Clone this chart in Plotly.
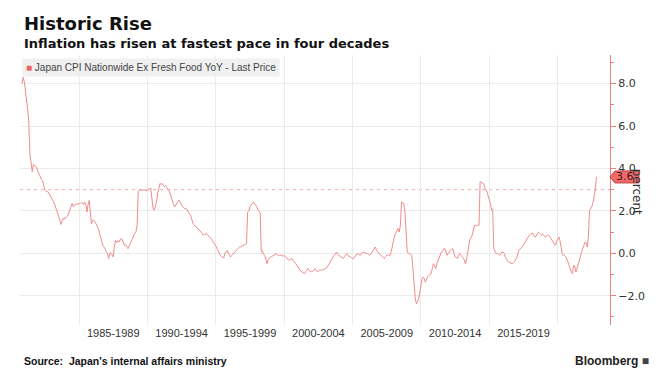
import pandas as pd
import plotly.graph_objects as go

# ---- data -------------------------------------------------------------
series_name = "Japan CPI Nationwide Ex Fresh Food YoY - Last Price"
first_month = "1980-10-01"   # monthly observations, month-end dates
cpi_yoy = [
    8.0, 8.3, 8.1,                                                        # 1980 Oct-Dec
    7.7, 7.3, 6.8, 6.2, 4.6, 4.3, 3.85, 4.2, 4.15, 4.1, 4.05, 3.85,        # 1981
    3.7, 3.6, 3.5, 3.45, 3.2, 3.0, 2.95, 2.9, 2.9, 2.75, 2.7, 2.6,         # 1982
    2.5, 2.4, 2.27, 2.1, 1.95, 1.8, 1.6, 1.36, 1.5, 1.64, 1.6, 1.7,        # 1983
    1.7, 1.75, 1.9, 2.1, 2.2, 2.35, 2.2, 2.3, 2.27, 2.35, 2.3, 2.35,       # 1984
    2.35, 2.4, 2.38, 2.3, 2.42, 2.3, 1.95, 2.3, 2.5, 1.9, 1.4, 1.55,       # 1985
    1.56, 1.5, 1.4, 1.3, 1.17, 0.95, 0.69, 0.55, 0.38, 0.3, 0.2, 0.06,     # 1986
    0.0, -0.25, 0.0, 0.03, -0.1, -0.17, 0.3, 0.61, 0.5, 0.6, 0.53, 0.6,    # 1987
    0.7, 0.65, 0.5, 0.38, 0.4, 0.3, 0.22, 0.35, 0.45, 0.53, 0.7, 0.85,     # 1988
    0.95, 1.0, 1.3, 2.9, 2.98, 2.98, 2.95, 2.98, 3.0, 2.98, 2.95, 2.98,    # 1989
    3.0, 3.05, 3.08, 2.4, 2.1, 2.03, 2.2, 2.42, 2.8, 3.1, 3.29, 3.25,      # 1990
    3.3, 3.21, 3.15, 3.2, 3.08, 3.0, 2.98, 2.8, 2.58, 2.4, 2.3, 2.19,      # 1991
    2.3, 2.35, 2.45, 2.5, 2.4, 2.25, 2.19, 2.15, 2.1, 2.11, 2.05, 1.95,    # 1992
    1.85, 1.8, 1.6, 1.4, 1.35, 1.3, 1.24, 1.2, 1.15, 1.09, 1.0, 0.95,      # 1993
    0.85, 0.9, 0.9, 0.93, 0.85, 0.8, 0.77, 0.7, 0.6, 0.53, 0.45, 0.35,     # 1994
    0.22, 0.1, 0.0, -0.09, -0.15, -0.2, -0.22, 0.0, 0.1, 0.14, 0.0, -0.1,  # 1995
    -0.17, -0.1, -0.01, 0.0, 0.1, 0.14, 0.2, 0.25, 0.3, 0.3, 0.35, 0.38,   # 1996
    0.4, 0.42, 0.46, 1.95, 2.0, 2.19, 2.25, 2.35, 2.42, 2.35, 2.25, 2.19,  # 1997
    2.05, 1.95, 1.9, 0.06, 0.1, -0.05, -0.09, -0.3, -0.49, -0.3, -0.2, -0.17,        # 1998
    -0.15, -0.1, -0.09, -0.05, -0.01, -0.05, -0.1, -0.09, -0.1, -0.09, -0.15, -0.09,  # 1999
    -0.15, -0.2, -0.25, -0.33, -0.3, -0.28, -0.25, -0.35, -0.45, -0.49, -0.55, -0.65, # 2000
    -0.72, -0.8, -0.85, -0.88, -0.92, -0.96, -0.85, -0.75, -0.72, -0.8, -0.88, -0.85, # 2001
    -0.85, -0.8, -0.72, -0.78, -0.85, -0.85, -0.8, -0.8, -0.8, -0.78, -0.75, -0.72,   # 2002
    -0.7, -0.6, -0.57, -0.45, -0.33, -0.25, -0.17, -0.1, 0.0, 0.06, -0.05, -0.09,     # 2003
    -0.09, -0.15, -0.2, -0.25, -0.15, -0.05, -0.01, -0.1, -0.15, -0.17, -0.2, -0.25,  # 2004
    -0.25, -0.15, -0.05, -0.01, -0.05, -0.08, -0.09, 0.0, 0.06, 0.05, 0.0, -0.01,     # 2005
    -0.01, -0.05, -0.09, -0.05, 0.05, 0.14, 0.22, 0.3, 0.15, 0.06, 0.0, -0.05,        # 2006
    -0.09, -0.15, -0.2, -0.25, -0.15, -0.09, -0.09, -0.1, -0.09, 0.1, 0.38, 0.6,      # 2007
    0.85, 0.95, 1.05, 1.17, 1.0, 1.32, 2.42, 2.4, 2.35, 1.95, 1.0, 0.06,              # 2008
    0.0, 0.0, -0.06, -0.1, -0.72, -1.67, -2.1, -2.38, -2.3, -2.14, -1.8, -1.36,       # 2009
    -1.2, -1.12, -1.2, -1.36, -1.2, -1.1, -1.04, -1.0, -0.96, -0.7, -0.49, -0.6,      # 2010
    -0.72, -0.5, -0.35, -0.25, -0.1, 0.06, 0.1, 0.2, 0.22, 0.05, -0.09, 0.0,          # 2011
    0.05, 0.14, 0.2, 0.22, 0.0, -0.17, -0.2, -0.25, -0.1, -0.01, -0.1, -0.15,         # 2012
    -0.2, -0.3, -0.49, -0.3, 0.06, 0.4, 0.65, 0.75, 0.85, 1.1, 1.32, 1.32,            # 2013
    1.3, 1.32, 1.32, 3.37, 3.37, 3.3, 3.29, 3.1, 3.0, 2.9, 2.7, 2.5,                  # 2014
    2.35, 2.03, 2.1, 0.22, 0.1, -0.01, 0.0, -0.05, -0.09, -0.05, 0.06, 0.06,          # 2015
    0.0, -0.17, -0.3, -0.35, -0.41, -0.45, -0.49, -0.49, -0.45, -0.4, -0.33, -0.2,    # 2016
    0.0, 0.14, 0.2, 0.25, 0.3, 0.4, 0.5, 0.53, 0.65, 0.77, 0.85, 0.9,                 # 2017
    0.93, 0.95, 0.85, 0.77, 0.8, 0.9, 1.0, 0.95, 0.9, 0.85, 0.9, 0.8,                 # 2018
    0.77, 0.8, 0.85, 0.85, 0.8, 0.7, 0.61, 0.5, 0.45, 0.38, 0.55, 0.7,                # 2019
    0.77, 0.6, 0.3, -0.01, -0.1, -0.1, -0.15, -0.25, -0.4, -0.57, -0.75, -0.9,        # 2020
    -0.96, -0.57, -0.6, -0.88, -0.7, -0.49, -0.3, -0.09, 0.05, 0.22, 0.4, 0.53,       # 2021
    0.5, 0.3, 0.8, 2.03, 2.1, 2.2, 2.4, 2.66, 3.0, 3.6,                               # 2022 Jan-Oct
]
reference_level = 3.0
last_value = cpi_yoy[-1]

period_labels = ["1985-1989", "1990-1994", "1995-1999", "2000-2004",
                 "2005-2009", "2010-2014", "2015-2019"]
period_label_dates = ["1987-07-02", "1992-07-02", "1997-07-02", "2002-07-02",
                      "2007-07-02", "2012-07-02", "2017-07-02"]
grid_dates = ["1985-01-01", "1990-01-01", "1995-01-01", "2000-01-01",
              "2005-01-01", "2010-01-01", "2015-01-01", "2020-01-01"]
y_ticks = [-2, 0, 2, 4, 6, 8]

dates = pd.date_range(first_month, periods=len(cpi_yoy), freq="MS") + pd.offsets.MonthEnd(0)

# ---- styles -----------------------------------------------------------
LINE = "#f08c8c"
AXIS_RED = "#ec8080"
GRID = "#ebebeb"
TEXT = "#333333"

fig = go.Figure()
fig.add_trace(go.Scatter(
    x=dates, y=cpi_yoy, mode="lines", name=series_name,
    line=dict(color=LINE, width=1), showlegend=False,
    hovertemplate="%{x|%b %Y}: %{y:.1f}<extra></extra>",
))

# dashed reference level
fig.add_shape(type="line", xref="paper", x0=0, x1=1, yref="y",
              y0=reference_level, y1=reference_level,
              line=dict(color="#f3a6a6", width=1, dash="3px,4px"), layer="below")

# last price tag
fig.add_shape(type="path", xref="paper", yref="y", xsizemode="pixel", ysizemode="pixel",
              xanchor=1, yanchor=last_value,
              path="M 0 0 L 5 6 L 29 6 L 29 -6 L 5 -6 Z",
              fillcolor="#f06a6a", line=dict(color="#c24848", width=1), layer="above")
fig.add_annotation(x=1, xref="paper", y=last_value, yref="y", xanchor="left", xshift=4,
                   text=f"{last_value:.1f}", showarrow=False,
                   font=dict(family="DejaVu Sans", size=11, color="#3a1a1a"))

# titles
fig.add_annotation(x=0.0034, xref="paper", y=1.1185, yref="paper", xanchor="left", yanchor="middle",
                   text="<b>Historic Rise</b>", showarrow=False,
                   font=dict(family="DejaVu Sans", size=18, color="#111111"))
fig.add_annotation(x=0.0034, xref="paper", y=1.0426, yref="paper", xanchor="left", yanchor="middle",
                   text="<b>Inflation has risen at fastest pace in four decades</b>", showarrow=False,
                   font=dict(family="DejaVu Sans", size=13, color="#111111"))

# legend box
fig.add_annotation(x=0.0034, xref="paper", y=0.989, yref="paper", xanchor="left", yanchor="top",
                   text=f"<span style='color:#f06060'>■</span> {series_name}", showarrow=False,
                   bgcolor="#f0f0f0", borderpad=3,
                   font=dict(family="Liberation Sans", size=10, color="#444444"))

# axis title on right
fig.add_annotation(x=1.0625, xref="paper", y=0.494, yref="paper", textangle=90,
                   text="percent", showarrow=False,
                   font=dict(family="DejaVu Sans", size=12, color=TEXT))

# footer
fig.add_annotation(x=0.0034, xref="paper", y=-0.1333, yref="paper", xanchor="left", yanchor="middle",
                   text="<b>Source:  Japan's internal affairs ministry</b>", showarrow=False,
                   font=dict(family="Liberation Sans", size=10.5, color="#111111"))
fig.add_annotation(x=1.07, xref="paper", y=-0.1333, yref="paper", xanchor="right", yanchor="middle",
                   text="<b>Bloomberg</b> <span style='color:#444'>■</span>", showarrow=False,
                   font=dict(family="Liberation Sans", size=12, color="#222222"))

fig.update_layout(
    width=667, height=380,
    margin=dict(l=20, r=57, t=55, b=55),
    paper_bgcolor="white", plot_bgcolor="white",
    font=dict(family="DejaVu Sans", color=TEXT),
    showlegend=False,
)
fig.update_xaxes(
    type="date", range=["1980-09-07", "2023-10-28"],
    tickmode="array", tickvals=period_label_dates, ticktext=period_labels,
    ticks="", showgrid=False, showline=False, zeroline=False,
    tickfont=dict(family="Liberation Sans", size=11, color=TEXT),
    minor=dict(tickmode="array", tickvals=grid_dates, showgrid=True,
               gridcolor=GRID, gridwidth=1, ticks=""),
)
fig.update_yaxes(
    side="right", range=[-3.38, 9.35],
    tickmode="array", tickvals=y_ticks, tickformat=".1f",
    showgrid=True, gridcolor=GRID, gridwidth=1, zeroline=False,
    showline=True, linecolor=AXIS_RED, linewidth=1,
    ticks="outside", ticklen=5, tickcolor=AXIS_RED,
    minor=dict(dtick=1, tick0=0, ticks="outside", ticklen=3, tickcolor=AXIS_RED, showgrid=False),
    tickfont=dict(family="DejaVu Sans", size=11, color=TEXT),
)

fig.write_html("out.html", config={"displayModeBar": False},
               post_script="document.body.style.margin='0';")
